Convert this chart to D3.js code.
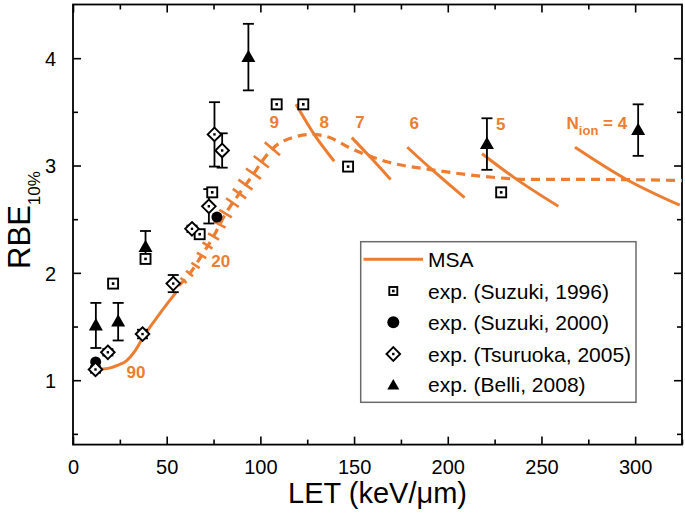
<!DOCTYPE html>
<html><head><meta charset="utf-8">
<script src="https://cdn.jsdelivr.net/npm/d3@7/dist/d3.min.js"></script>
<style>
body{margin:0;background:#fff}
svg{display:block;font-family:"Liberation Sans",Arial,Helvetica,sans-serif}
</style>
</head><body>
<svg id="chart" width="685" height="515"></svg>
<script>
// ---------------- data ----------------
const xTickValues = [0, 50, 100, 150, 200, 250, 300];
const xMinorValues = [25, 75, 125, 175, 225, 275, 325];
const yTickValues = [1, 2, 3, 4];
const yMinorValues = [0.5, 1.5, 2.5, 3.5, 4.5];

// MSA solid curve (low LET)
const msaLET = [12, 16, 20, 24, 28.5, 33, 37.4, 46.3, 55.1];
const msaRBE = [1.105, 1.105, 1.115, 1.14, 1.18, 1.27, 1.40, 1.62, 1.82];

// MSA dashed envelope curve
const envLET = [56.5, 62.2, 68.6, 75.0, 81.4, 88.8, 96.3, 100.5, 106.4, 117, 127.8, 137, 147, 158, 168.6, 191.7, 218.3, 244.8, 280, 325];
const envRBE = [1.88, 1.99, 2.16, 2.34, 2.55, 2.74, 2.92, 3.03, 3.156, 3.26, 3.29, 3.26, 3.17, 3.09, 3.03, 2.96, 2.90, 2.87, 2.87, 2.86];

// short MSA segments crossing the dashed curve (centres)
const shortLET = [59.0, 62.2, 65.4, 68.6, 71.8, 75.0, 78.2, 81.4, 85.1, 88.8, 92.0, 96.3, 100.5, 106.4];
const shortRBE = [1.929, 1.994, 2.069, 2.162, 2.255, 2.338, 2.450, 2.552, 2.654, 2.738, 2.822, 2.924, 3.035, 3.156];

// long MSA segments for N_ion = 8..4
const seg8 = [[119, 3.57], [128.7, 3.29], [139.4, 3.04]];
const seg7 = [[148.8, 3.26], [158, 3.09], [169.5, 2.87]];
const seg6 = [[178.4, 3.17], [191, 2.97], [209, 2.70]];
const seg5 = [[218.3, 3.11], [236, 2.88], [259, 2.62]];
const seg4 = [[267.9, 3.17], [295.4, 2.87], [323.8, 2.63]];

// N_ion labels: text, LET, RBE (baseline)
const nLabels = ["90", "20", "9", "8", "7", "6", "5"];
const nLabelLET = [33.6, 78.8, 107.4, 134.1, 153.1, 182.1, 228.2];
const nLabelRBE = [1.023, 2.058, 3.346, 3.35, 3.346, 3.337, 3.33];
const nIonLET = 263.4, nIonRBE = 3.34;

// experiments [LET, RBE, err]
const suzuki1996 = [[21.4, 1.90], [38.7, 2.13], [67.6, 2.36], [74.3, 2.75], [108.7, 3.57], [122.9, 3.57], [146.8, 2.99], [228.5, 2.75]];
const suzuki2000 = [[12.1, 1.17], [76.8, 2.52]];
const tsuruoka2005 = [[12.0, 1.10, 0.03], [18.6, 1.26, 0.03], [37.1, 1.43, 0.04], [53.5, 1.90, 0.08], [63.5, 2.41, 0.03], [72.5, 2.62, 0.16], [75.5, 3.29, 0.30], [79.6, 3.14, 0.16]];
const belli2008 = [[12.2, 1.51, 0.21], [24.1, 1.545, 0.175], [38.7, 2.24, 0.15], [93.6, 4.01, 0.31], [220.9, 3.20, 0.24], [301.6, 3.33, 0.24]];

const legendLabels = ["MSA", "exp. (Suzuki, 1996)", "exp. (Suzuki, 2000)", "exp. (Tsuruoka, 2005)", "exp. (Belli, 2008)"];

// ---------------- drawing ----------------
const ORANGE = "#ED7D31";
const svg = d3.select("#chart");
const L = 73, R = 682, T = 4.5, B = 444.6;
const x = d3.scaleLinear().domain([0, 325]).range([L, R]);
const y = d3.scaleLinear().domain([0.4, 4.5]).range([B, T]);

function styleAxis(g) {
  g.select(".domain").remove();
  g.selectAll(".tick line").attr("stroke", "#000").attr("stroke-width", 1.6);
}
const fontTick = 20;
svg.append("g").attr("transform", `translate(0,${B})`)
  .call(d3.axisBottom(x).tickValues(xTickValues).tickSize(-8).tickFormat(d3.format("d")))
  .call(styleAxis)
  .call(g => g.selectAll("text").attr("y", 29).attr("dy", 0).attr("font-size", fontTick).attr("fill", "#000").attr("font-family", null));
svg.append("g").attr("transform", `translate(0,${B})`)
  .call(d3.axisBottom(x).tickValues(xMinorValues.filter(v => v <= 325)).tickSize(-5).tickFormat(""))
  .call(styleAxis);
svg.append("g").attr("transform", `translate(0,${T})`)
  .call(d3.axisTop(x).tickValues(xTickValues).tickSize(-8).tickFormat(""))
  .call(styleAxis);
svg.append("g").attr("transform", `translate(0,${T})`)
  .call(d3.axisTop(x).tickValues(xMinorValues.filter(v => v < 325)).tickSize(-5).tickFormat(""))
  .call(styleAxis);
svg.append("g").attr("transform", `translate(${L},0)`)
  .call(d3.axisLeft(y).tickValues(yTickValues).tickSize(-8).tickFormat(d3.format("d")))
  .call(styleAxis)
  .call(g => g.selectAll("text").attr("x", -17).attr("dy", "0.36em").attr("font-size", fontTick).attr("fill", "#000").attr("font-family", null));
svg.append("g").attr("transform", `translate(${L},0)`)
  .call(d3.axisLeft(y).tickValues(yMinorValues.filter(v => v > 0.4 && v < 4.5)).tickSize(-5).tickFormat(""))
  .call(styleAxis);
svg.append("g").attr("transform", `translate(${R},0)`)
  .call(d3.axisRight(y).tickValues(yTickValues).tickSize(-8).tickFormat(""))
  .call(styleAxis);
svg.append("g").attr("transform", `translate(${R},0)`)
  .call(d3.axisRight(y).tickValues(yMinorValues.filter(v => v > 0.4 && v < 4.5)).tickSize(-5).tickFormat(""))
  .call(styleAxis);

// frame
svg.append("rect").attr("x", L).attr("y", T).attr("width", R - L).attr("height", B - T)
  .attr("fill", "none").attr("stroke", "#000").attr("stroke-width", 1.8);

// axis titles
svg.append("text").attr("x", (L + R) / 2).attr("y", 503).attr("text-anchor", "middle")
  .attr("font-size", 29).text("LET (keV/\u03BCm)");
const yt = svg.append("text").attr("transform", "translate(30,220) rotate(-90)")
  .attr("text-anchor", "middle").attr("font-size", 31);
yt.append("tspan").text("RBE");
yt.append("tspan").attr("font-size", 17).attr("dy", 10).text("10%");

const plot = svg.append("g");
svg.append("defs").append("clipPath").attr("id", "clipP").append("rect")
  .attr("x", L).attr("y", T).attr("width", R - L).attr("height", B - T);
plot.attr("clip-path", "url(#clipP)");

const line = d3.line().x(d => x(d[0])).y(d => y(d[1])).curve(d3.curveMonotoneX);

// MSA solid low curve
plot.append("path").datum(msaLET.map((v, i) => [v, msaRBE[i]]))
  .attr("d", line).attr("fill", "none")
  .attr("stroke", ORANGE).attr("stroke-width", 3);

// dashed envelope
plot.append("path").datum(envLET.map((v, i) => [v, envRBE[i]]))
  .attr("d", line)
  .attr("fill", "none").attr("stroke", ORANGE).attr("stroke-width", 3.2)
  .attr("stroke-dasharray", "9,6");

// short segments across dashed line
const nS = shortLET.length;
shortLET.forEach((v, i) => {
  const px = x(v), py = y(shortRBE[i]);
  const a = i > 0 ? i - 1 : i, b = i < nS - 1 ? i + 1 : i;
  let tx = x(shortLET[b]) - x(shortLET[a]), ty = y(shortRBE[b]) - y(shortRBE[a]);
  const n = Math.hypot(tx, ty); tx /= n; ty /= n;
  const nx = -ty, ny = tx;
  const len = 8 + 12 * i / (nS - 1);
  plot.append("line")
    .attr("x1", px - nx * len / 2).attr("y1", py - ny * len / 2)
    .attr("x2", px + nx * len / 2).attr("y2", py + ny * len / 2)
    .attr("stroke", ORANGE).attr("stroke-width", 2.6);
});

// long segments
[seg8, seg7, seg6, seg5, seg4].forEach(s => {
  plot.append("path").datum(s)
    .attr("d", line)
    .attr("fill", "none").attr("stroke", ORANGE).attr("stroke-width", 3);
});

// N labels
nLabels.forEach((t, i) => {
  svg.append("text").attr("x", x(nLabelLET[i])).attr("y", y(nLabelRBE[i]))
    .attr("text-anchor", "middle").attr("font-size", 17).attr("font-weight", "bold")
    .attr("fill", ORANGE).text(t);
});
const nt = svg.append("text").attr("x", x(nIonLET)).attr("y", y(nIonRBE))
  .attr("font-size", 17).attr("font-weight", "bold").attr("fill", ORANGE);
nt.append("tspan").text("N");
nt.append("tspan").attr("font-size", 13).attr("dy", 6).text("ion");
nt.append("tspan").attr("dy", -6).text(" = 4");

// markers
function sq(g, cx, cy, s) {
  g.append("rect").attr("x", cx - s / 2).attr("y", cy - s / 2).attr("width", s).attr("height", s)
    .attr("fill", "#fff").attr("stroke", "#000").attr("stroke-width", 1.9);
  g.append("rect").attr("x", cx - 1.3).attr("y", cy - 1.3).attr("width", 2.6).attr("height", 2.6).attr("fill", "#000");
}
function circ(g, cx, cy, r) {
  g.append("circle").attr("cx", cx).attr("cy", cy).attr("r", r).attr("fill", "#000");
}
function dia(g, cx, cy, h) {
  g.append("path").attr("d", `M${cx},${cy - h}L${cx + h},${cy}L${cx},${cy + h}L${cx - h},${cy}Z`)
    .attr("fill", "#fff").attr("stroke", "#000").attr("stroke-width", 1.9);
  g.append("rect").attr("x", cx - 1.2).attr("y", cy - 1.2).attr("width", 2.4).attr("height", 2.4).attr("fill", "#000");
}
function tri(g, cx, cy, w) {
  const h = w * 0.88;
  g.append("path").attr("d", `M${cx},${cy - h * 0.6}L${cx + w / 2},${cy + h * 0.4}L${cx - w / 2},${cy + h * 0.4}Z`)
    .attr("fill", "#000");
}
function errbar(g, d) {
  if (d[2] == null) return;
  const cx = x(d[0]), y1 = y(d[1] - d[2]), y2 = y(d[1] + d[2]);
  g.append("line").attr("x1", cx).attr("x2", cx).attr("y1", y1).attr("y2", y2).attr("stroke", "#000").attr("stroke-width", 1.8);
  [y1, y2].forEach(yy => g.append("line").attr("x1", cx - 5.5).attr("x2", cx + 5.5).attr("y1", yy).attr("y2", yy)
    .attr("stroke", "#000").attr("stroke-width", 1.8));
}
const mk = svg.append("g");
tsuruoka2005.forEach(d => errbar(mk, d));
belli2008.forEach(d => errbar(mk, d));
suzuki2000.forEach(d => circ(mk, x(d[0]), y(d[1]), 5.5));
suzuki1996.forEach(d => sq(mk, x(d[0]), y(d[1]), 10));
tsuruoka2005.forEach(d => dia(mk, x(d[0]), y(d[1]), 6.8));
belli2008.forEach(d => tri(mk, x(d[0]), y(d[1]), 14));

// legend
const lg = svg.append("g");
lg.append("rect").attr("x", 360.7).attr("y", 241.7).attr("width", 275.3).attr("height", 160.6)
  .attr("fill", "#fff").attr("stroke", "#6b6b6b").attr("stroke-width", 1.5);
const rowY = [259.3, 291, 322.3, 354, 384.3];
lg.append("line").attr("x1", 363.5).attr("x2", 423).attr("y1", rowY[0]).attr("y2", rowY[0])
  .attr("stroke", ORANGE).attr("stroke-width", 3);
sq(lg, 393.3, rowY[1], 8);
circ(lg, 393.3, rowY[2], 6);
dia(lg, 393.3, rowY[3], 6.8);
tri(lg, 393.3, rowY[4] + 1, 12);
legendLabels.forEach((t, i) => {
  lg.append("text").attr("x", 428).attr("y", rowY[i] + 7.5).attr("font-size", 21).attr("fill", "#000").text(t);
});
</script>
</body></html>
